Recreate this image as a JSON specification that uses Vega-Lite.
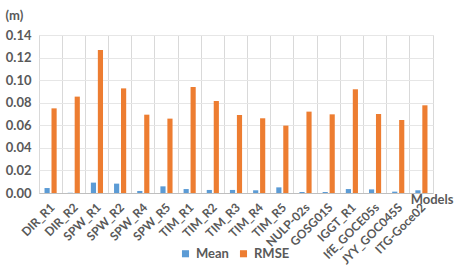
{
  "$schema": "https://vega.github.io/schema/vega-lite/v6.json",
  "width": 394,
  "height": 158,
  "autosize": "none",
  "padding": {"left": 39, "top": 35, "right": 22, "bottom": 74},
  "background": "white",
  "config": {
    "font": "Lato",
    "view": {"stroke": "#D9D9D9", "strokeWidth": 1},
    "axis": {"labelFont": "Lato", "titleFont": "Lato", "labelColor": "#595959", "titleColor": "#595959", "labelFontWeight": "bold", "titleFontWeight": "bold"}
  },
  "data": {
    "values": [
      {"model": "DIR_R1", "series": "Mean", "value": 0.0044},
      {"model": "DIR_R1", "series": "RMSE", "value": 0.0750},
      {"model": "DIR_R2", "series": "Mean", "value": 0.0002},
      {"model": "DIR_R2", "series": "RMSE", "value": 0.0854},
      {"model": "SPW_R1", "series": "Mean", "value": 0.0092},
      {"model": "SPW_R1", "series": "RMSE", "value": 0.1267},
      {"model": "SPW_R2", "series": "Mean", "value": 0.0083},
      {"model": "SPW_R2", "series": "RMSE", "value": 0.0927},
      {"model": "SPW_R4", "series": "Mean", "value": 0.0018},
      {"model": "SPW_R4", "series": "RMSE", "value": 0.0694},
      {"model": "SPW_R5", "series": "Mean", "value": 0.0059},
      {"model": "SPW_R5", "series": "RMSE", "value": 0.0659},
      {"model": "TIM_R1", "series": "Mean", "value": 0.0035},
      {"model": "TIM_R1", "series": "RMSE", "value": 0.0939},
      {"model": "TIM_R2", "series": "Mean", "value": 0.0027},
      {"model": "TIM_R2", "series": "RMSE", "value": 0.0815},
      {"model": "TIM_R3", "series": "Mean", "value": 0.0027},
      {"model": "TIM_R3", "series": "RMSE", "value": 0.0691},
      {"model": "TIM_R4", "series": "Mean", "value": 0.0024},
      {"model": "TIM_R4", "series": "RMSE", "value": 0.0662},
      {"model": "TIM_R5", "series": "Mean", "value": 0.0050},
      {"model": "TIM_R5", "series": "RMSE", "value": 0.0597},
      {"model": "NULP-02s", "series": "Mean", "value": 0.0009},
      {"model": "NULP-02s", "series": "RMSE", "value": 0.0721},
      {"model": "GOSG01S", "series": "Mean", "value": 0.0009},
      {"model": "GOSG01S", "series": "RMSE", "value": 0.0697},
      {"model": "IGGT_R1", "series": "Mean", "value": 0.0035},
      {"model": "IGGT_R1", "series": "RMSE", "value": 0.0919},
      {"model": "IfE_GOCE05s", "series": "Mean", "value": 0.0032},
      {"model": "IfE_GOCE05s", "series": "RMSE", "value": 0.0700},
      {"model": "JYY_GOC045S", "series": "Mean", "value": 0.0012},
      {"model": "JYY_GOC045S", "series": "RMSE", "value": 0.0647},
      {"model": "ITG-Goce02", "series": "Mean", "value": 0.0024},
      {"model": "ITG-Goce02", "series": "RMSE", "value": 0.0777}
    ]
  },
  "mark": {"type": "bar"},
  "encoding": {
    "x": {
      "field": "model",
      "type": "nominal",
      "sort": null,
      "scale": {"paddingInner": 0, "paddingOuter": 0},
      "axis": {
        "title": "Models",
        "titleAngle": 0,
        "titleAlign": "right",
        "titleBaseline": "middle",
        "titleX": 414,
        "titleY": 6,
        "titleFontSize": 13,
        "labelAngle": -45,
        "labelAlign": "right",
        "labelBaseline": "middle",
        "labelFontSize": 12,
        "labelPadding": 12,
        "labelOffset": 2,
        "labelOverlap": false,
        "ticks": false,
        "grid": true,
        "bandPosition": 0,
        "gridColor": "#D9D9D9",
        "domainColor": "#BFBFBF",
        "domainWidth": 1.2
      }
    },
    "xOffset": {
      "field": "series",
      "type": "nominal",
      "scale": {"paddingInner": 0.26, "paddingOuter": 0.79}
    },
    "y": {
      "field": "value",
      "type": "quantitative",
      "scale": {"domain": [0, 0.14]},
      "axis": {
        "values": [0, 0.02, 0.04, 0.06, 0.08, 0.1, 0.12, 0.14],
        "format": ".2f",
        "title": "(m)",
        "titleAngle": 0,
        "titleAlign": "left",
        "titleBaseline": "middle",
        "titleX": -34,
        "titleY": -20,
        "titleFontSize": 13,
        "labelFontSize": 13,
        "labelPadding": 8,
        "ticks": false,
        "domain": false,
        "grid": true,
        "gridColor": "#E6E6E6"
      }
    },
    "color": {
      "field": "series",
      "type": "nominal",
      "scale": {"domain": ["Mean", "RMSE"], "range": ["#5B9BD5", "#ED7D31"]},
      "legend": {
        "title": null,
        "orient": "none",
        "direction": "horizontal",
        "legendX": 140,
        "legendY": 212,
        "symbolType": "square",
        "symbolSize": 50,
        "symbolStrokeWidth": 0,
        "labelFontSize": 13,
        "labelFont": "Lato",
        "labelFontWeight": "bold",
        "labelColor": "#595959",
        "labelOffset": 4,
        "columnPadding": 8
      }
    }
  }
}
